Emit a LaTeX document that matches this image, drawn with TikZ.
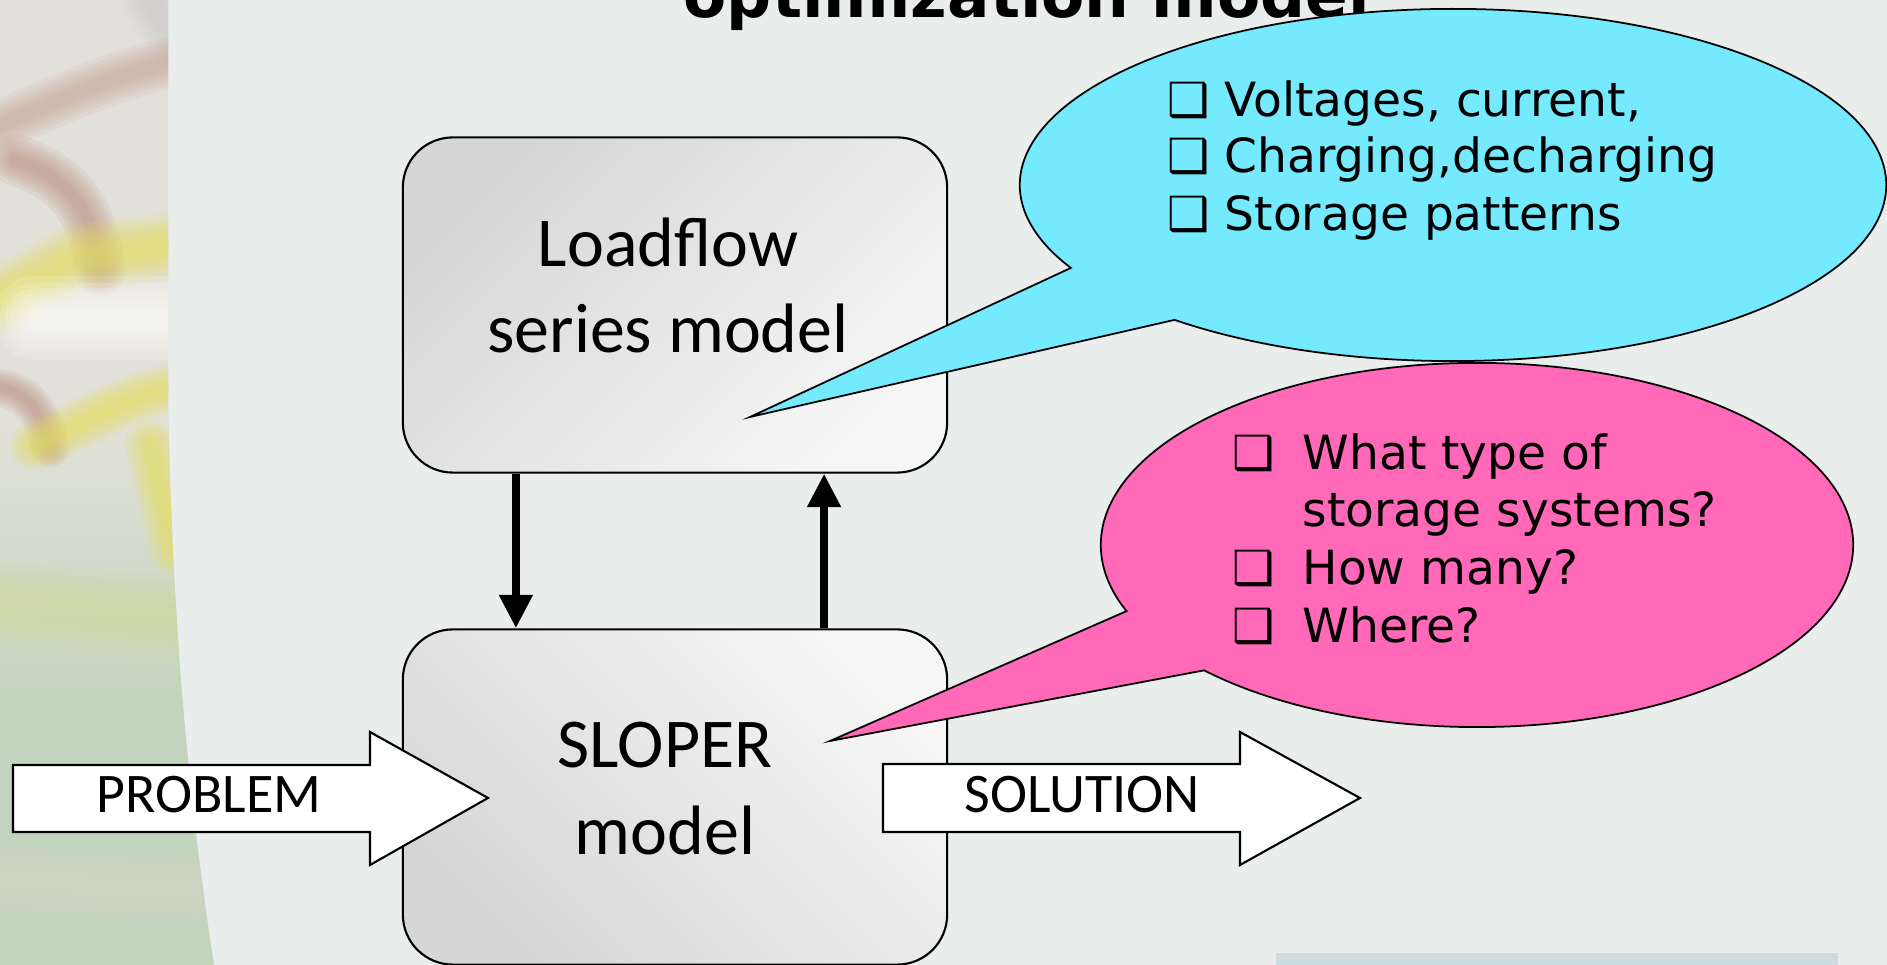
\documentclass[tikz,border=0pt]{standalone}
\usepackage{fontspec}
\setmainfont{Carlito}
\newfontfamily\dejavu{DejaVu Sans}
\usetikzlibrary{calc,arrows.meta}

\definecolor{slidebg}{HTML}{E9EDEC}
\definecolor{boxdark}{HTML}{D6D6D6}
\definecolor{boxlight}{HTML}{F6F6F6}
\definecolor{bubcyan}{HTML}{75E9FD}
\definecolor{bubpink}{HTML}{FF69B8}
\definecolor{barblue}{HTML}{CCDCE1}
\definecolor{phcream}{HTML}{E2E1D9}
\definecolor{phbrown}{HTML}{B58474}
\definecolor{phyellow}{HTML}{E4DD5E}
\definecolor{phgreen}{HTML}{C3D4BE}
\definecolor{phpink}{HTML}{DDD3CA}

\newcommand{\chk}[1]{\makebox[#1][l]{❑}}
\newcommand{\smear}[3]{%
  \foreach \k in {2.4,2.0,1.7,1.4,1.1,0.8,0.5}{%
    \draw[#1,line width=\k*#2,opacity=0.15,line cap=round,line join=round] #3;}}

\begin{document}
\begin{tikzpicture}[x=0.01cm,y=-0.01cm,%
    modelbox/.style={draw,line width=0.6pt,rounded corners=0.5cm,%
      minimum width=5.44cm,minimum height=3.35cm},%
    boxlabel/.style={anchor=base,inner sep=0,font=\fontsize{19.9}{24}\selectfont},%
    link/.style={line width=2.4pt,-{Triangle[width=9pt,length=9.5pt]}},%
    bigarrow/.style={draw,fill=white,line width=0.6pt,line join=miter},%
    arrowlabel/.style={anchor=base,inner sep=0,font=\fontsize{15.9}{19}\selectfont},%
    bubble/.style={draw,line width=0.5pt,line join=miter},%
    bubtext/.style={anchor=base west,inner sep=0,font=\dejavu\fontsize{13.4}{16}\selectfont}%
    ]

    %
    % Fond
    %
    \fill[slidebg] (0,0) rectangle (1887,965);
    \useasboundingbox (0,0) rectangle (1887,965);

    % Photo floue a gauche
    \begin{scope}
      \clip (0,0) -- (168,0) -- (168,380) .. controls (170,600) and (188,800) .. (214,965)
        -- (0,965) -- cycle;
      \fill[phcream] (0,0) rectangle (220,965);
      \shade[top color=phcream,middle color=phpink,bottom color=phgreen] (0,420) rectangle (220,700);
      \fill[phgreen] (0,699) rectangle (220,965);
      \smear{gray!40}{7pt}{(150,0) -- (175,40)}
      \smear{phbrown!70!white}{6pt}{(0,125) .. controls (50,105) and (110,75) .. (175,62)}
      \smear{phbrown!85!white}{6pt}{(15,160) .. controls (60,175) and (92,200) .. (100,270)}
      \smear{phyellow}{8pt}{(0,300) -- (75,258) -- (175,245)}
      \smear{white}{10pt}{(35,318) -- (175,318)}
      \smear{phbrown!85!white}{4.5pt}{(0,388) .. controls (30,392) and (45,418) .. (50,448)}
      \smear{phyellow}{6pt}{(35,445) .. controls (80,425) and (130,395) .. (175,388)}
      \smear{phyellow}{6pt}{(150,445) -- (175,550)}
      \smear{phyellow!35!phgreen}{10pt}{(0,605) -- (200,620)}
      \smear{phpink!70!phgreen}{8pt}{(0,880) -- (200,890)}
    \end{scope}

    % Titre (coupe en haut)
    \node[anchor=base west,inner sep=0,font=\dejavu\bfseries\fontsize{17.9}{20}\selectfont]
      (title) at (683,18) {optimization model};

    %
    % Blocs
    %
    \node[modelbox,top color=boxdark,bottom color=boxlight,shading angle=45] (lf) at (675,305) {};
    \node[modelbox,top color=boxlight,bottom color=boxdark,shading angle=-45] (sl) at (675,797) {};

    \node[boxlabel] (lf1) at (668,267) {Loadflow};
    \node[boxlabel] (lf2) at (668,353) {series model};
    \node[boxlabel] (sl1) at (665,768) {SLOPER};
    \node[boxlabel] (sl2) at (665,855) {model};

    % Liaisons entre blocs
    \draw[link] ([xshift=-1.59cm]lf.south) -- ([xshift=-1.59cm]sl.north);
    \draw[link] ([xshift=1.49cm]sl.north) -- ([xshift=1.49cm]lf.south);

    % Fleches entree / sortie
    \draw[bigarrow] (13,765) -- (370,765) -- (370,732) -- (488,798) -- (370,865)
      -- (370,832) -- (13,832) -- cycle;
    \node[arrowlabel] (pb) at (209,813) {PROBLEM};
    \draw[bigarrow] (883,764) -- (1240,764) -- (1240,732) -- (1360,798) -- (1240,865)
      -- (1240,832) -- (883,832) -- cycle;
    \node[arrowlabel] (so) at (1082,813) {SOLUTION};

    %
    % Bulles
    %
    \coordinate (cyc) at (1453,185);
    \coordinate (cyt) at (750,417);
    \draw[bubble,fill=bubcyan] ($(cyc)+(230:4.33cm and 1.76cm)$)
      arc[start angle=230,end angle=568.1,x radius=4.33cm,y radius=1.76cm]
      -- (cyt) -- cycle;
    \node[bubtext] (v1) at (1167,117) {\chk{0.57cm}Voltages, current,};
    \node[bubtext] (v2) at (1167,173) {\chk{0.57cm}Charging,decharging};
    \node[bubtext] (v3) at (1167,231) {\chk{0.57cm}Storage patterns};

    \coordinate (pkc) at (1477,545);
    \coordinate (pkt) at (830,741);
    \draw[bubble,fill=bubpink] ($(pkc)+(223.5:3.76cm and 1.82cm)$)
      arc[start angle=223.5,end angle=561.3,x radius=3.76cm,y radius=1.82cm]
      -- (pkt) -- cycle;
    \node[bubtext] (q1) at (1232,470) {\chk{0.7cm}What type of};
    \node[bubtext] (q2) at (1302,527) {storage systems?};
    \node[bubtext] (q3) at (1232,585) {\chk{0.7cm}How many?};
    \node[bubtext] (q4) at (1232,643) {\chk{0.7cm}Where?};

    % Bandeau bas
    \fill[barblue] (1276,953) rectangle (1838,965);

\end{tikzpicture}
\end{document}
